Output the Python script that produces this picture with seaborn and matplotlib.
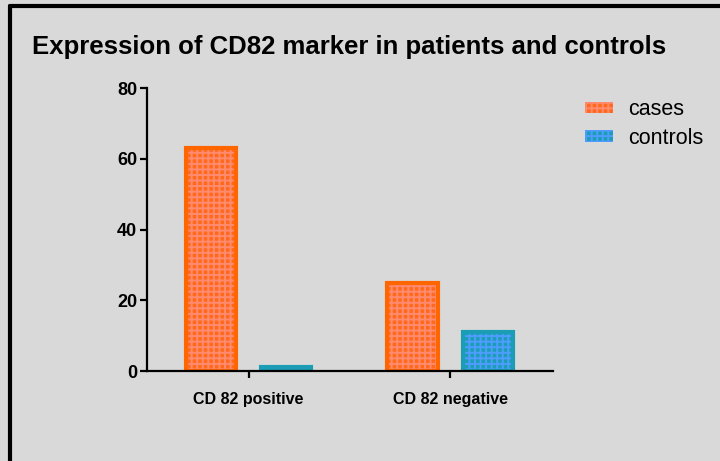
import numpy as np
import pandas as pd
import matplotlib.pyplot as plt
import seaborn as sns
from matplotlib.patches import Rectangle, Patch
from matplotlib.lines import Line2D

# data
categories = ["CD 82 positive", "CD 82 negative"]
groups = ["cases", "controls"]
cases = [63, 25]
controls = [1, 11]

df = pd.DataFrame({
    "marker": categories * 2,
    "group": ["cases"] * 2 + ["controls"] * 2,
    "value": cases + controls,
})

bg = "#d9d9d9"
edge_cols = {"cases": "#ff6600", "controls": "#1b9db5"}
fill_cols = {"cases": "#ff6a1a", "controls": "#1b9db5"}
hatch_cols = {"cases": "#ff8a70", "controls": "#4f9cff"}

sns.set_style("white")
plt.rcParams["font.family"] = ["Liberation Sans", "DejaVu Sans"]
plt.rcParams["text.color"] = "black"
plt.rcParams["hatch.linewidth"] = 1.4

fig = plt.figure(figsize=(7.2, 4.61), dpi=100, facecolor=bg)
ax = fig.add_axes([147/720, 90/461, 406/720, 283/461])
ax.set_facecolor(bg)

sns.barplot(data=df, x="marker", y="value", hue="group", order=categories,
            hue_order=groups, width=0.745, gap=0.333, ax=ax, legend=False)

# fill + checker hatch, then a thick outline on top
for cont, g in zip(ax.containers, groups):
    for p in cont:
        p.set_facecolor(fill_cols[g])
        p.set_edgecolor(hatch_cols[g])
        p.set_hatch("+++")
        p.set_linewidth(0)
        ax.add_patch(Rectangle(p.get_xy(), p.get_width(), p.get_height(),
                               fill=False, edgecolor=edge_cols[g], lw=3))

ax.set_xlim(-0.504, 1.511)
ax.set_ylim(0, 80)
ax.set_yticks([0, 20, 40, 60, 80])
ax.set_xlabel("")
ax.set_ylabel("")
sns.despine(ax=ax)
for s in ["left", "bottom"]:
    ax.spines[s].set_linewidth(1.6)
    ax.spines[s].set_color("black")
ax.tick_params(axis="both", direction="out", length=5, width=1.6, color="black",
               labelcolor="black", pad=2, left=True, bottom=True)
ax.tick_params(axis="y", labelsize=13)
ax.tick_params(axis="x", labelsize=11.5, pad=10)
for lab in ax.get_xticklabels() + ax.get_yticklabels():
    lab.set_fontweight("bold")

fig.text(32/720, 1 - 47/461, "Expression of CD82 marker in patients and controls",
         fontsize=18.5, fontweight="bold", va="center", ha="left")

handles = [Patch(facecolor=fill_cols[g], edgecolor=hatch_cols[g], hatch="+++", lw=0)
           for g in groups]
fig.legend(handles, groups, loc="upper left", bbox_to_anchor=(566/720, 1 - 80/461),
           frameon=False, fontsize=15.5, handlelength=1.3, handleheight=0.45,
           handletextpad=0.7, labelspacing=0.35)

# frame lines on left and top of the figure
fig.add_artist(Line2D([10/720, 10/720], [0, 1 - 6.5/461], color="black", lw=3))
fig.add_artist(Line2D([10/720, 1], [1 - 6.5/461, 1 - 6.5/461], color="black", lw=3))

fig.savefig("out.png", dpi=100, facecolor=bg)
